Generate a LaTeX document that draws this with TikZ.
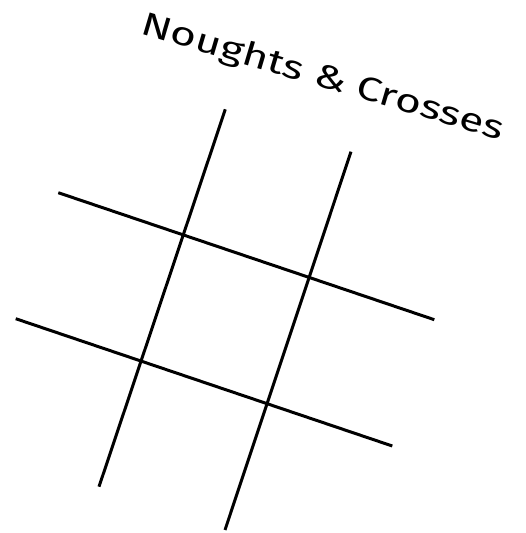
\documentclass[tikz,border=0pt]{standalone}
\usepackage{fontspec}
\newfontfamily\handfont{Fira Sans}
\begin{document}
\begin{tikzpicture}[x=1pt,y=1pt,
  gridline/.style={line width=3pt},
  titletext/.style={font=\handfont\fontsize{33}{40}\selectfont, inner sep=0pt, anchor=base west}]
\useasboundingbox (0,0) rectangle (525,533);
% grid end points (y = 533 - pixel row)
\coordinate (v1a) at (225.3,423.7);
\coordinate (v1b) at (99,46.3);
\coordinate (v2a) at (351,381.3);
\coordinate (v2b) at (225,3);
\coordinate (h1a) at (58.3,340.3);
\coordinate (h1b) at (434.3,213.3);
\coordinate (h2a) at (15.7,214.3);
\coordinate (h2b) at (392.3,87);
\draw[gridline] (v1a) -- (v1b);
\draw[gridline] (v2a) -- (v2b);
\draw[gridline] (h1a) -- (h1b);
\draw[gridline] (h2a) -- (h2b);
\node[titletext, rotate=-16.5, xscale=1.35] (title) at (139,500) {Noughts \& Crosses};
\end{tikzpicture}
\end{document}
